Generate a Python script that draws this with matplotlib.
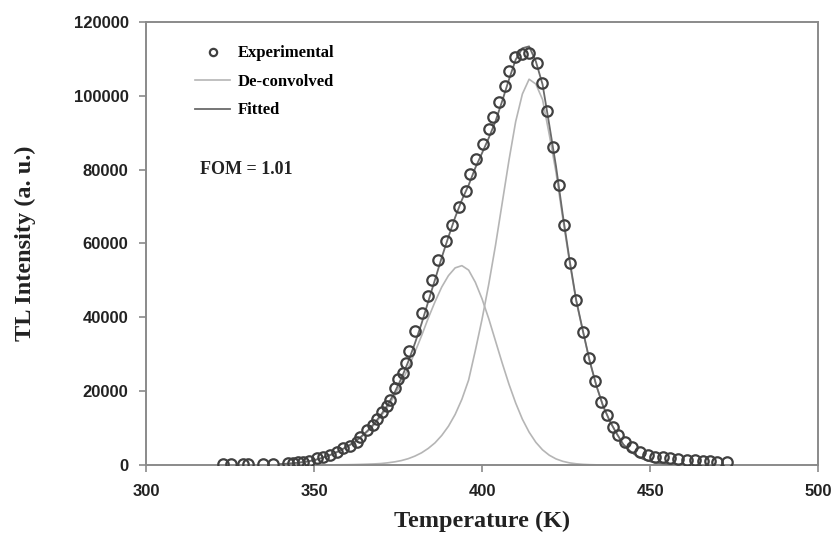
import numpy as np
import matplotlib.pyplot as plt

# experimental TL glow curve
temp_exp = [322.9, 325.3, 328.9, 330.4, 334.8, 337.8, 342.3, 343.8, 345.2, 346.7,
            348.5, 350.9, 352.7, 354.8, 356.8, 358.6, 360.7, 362.8, 363.7, 365.8,
            367.6, 368.8, 370.2, 371.7, 372.6, 374.1, 375.0, 376.5, 377.4, 378.3,
            380.1, 382.1, 383.9, 385.2, 386.9, 389.3, 391.1, 393.2, 395.2, 396.4,
            398.2, 400.3, 402.1, 403.3, 405.1, 406.8, 408.0, 409.8, 411.9, 414.0,
            416.4, 417.9, 419.3, 421.1, 422.9, 424.4, 426.2, 428.0, 430.1, 431.8,
            433.6, 435.4, 437.2, 439.0, 440.5, 442.6, 444.6, 447.0, 449.4, 451.5,
            453.9, 455.9, 458.3, 461.0, 463.4, 465.8, 467.9, 470.0, 473.0]
int_exp = [200, 200, 250, 250, 300, 350, 540, 540, 810, 810,
           1080, 1900, 2170, 2710, 3520, 4600, 5150, 6230, 7590, 9480,
           10840, 12460, 14360, 15980, 17610, 20860, 23300, 24920, 27630, 31000,
           36300, 41180, 45780, 50000, 55530, 60680, 65020, 69890, 74230, 78830,
           82900, 86960, 91020, 94270, 98340, 102670, 106740, 110530, 111340, 111610,
           108900, 103480, 95900, 86150, 75850, 65020, 54720, 44700, 36030, 28990,
           22750, 17070, 13540, 10290, 8130, 6230, 4880, 3520, 2710, 2170,
           2170, 1900, 1630, 1350, 1350, 1080, 1080, 810, 810]

# de-convolved peaks, sampled every 2 K
temp_fit = list(range(340, 462, 2))
peak_1 = [250, 350, 500, 700, 950, 1300, 1800, 2400, 3100, 4000,
          5000, 6100, 7500, 9100, 11000, 13300, 15800, 18800, 22300, 26200,
          30500, 35000, 39800, 44200, 48200, 51300, 53400, 54000, 52800, 49500,
          45000, 39600, 33600, 27600, 21900, 16800, 12400, 8900, 6150, 4100,
          2650, 1650, 1000, 580, 330, 180, 90, 40, 20, 0,
          0, 0, 0, 0, 0, 0, 0, 0, 0, 0, 0]
peak_2 = [0, 0, 0, 0, 0, 0, 0, 20, 40, 60,
          80, 120, 170, 230, 300, 400, 600, 850, 1200, 1700,
          2400, 3300, 4500, 6000, 8000, 10500, 13700, 17800, 23000, 31000,
          39500, 49000, 59500, 71000, 82500, 93000, 100500, 104500, 103200, 99000,
          89500, 79300, 66900, 55200, 44400, 36200, 28200, 21500, 16000, 11900,
          8600, 5600, 3800, 2500, 1600, 1000, 600, 350, 200, 100, 50]
fitted = np.array(peak_1) + np.array(peak_2)

fig = plt.figure(figsize=(8.34, 5.38), dpi=100)
ax = fig.add_axes([0.175, 0.1357, 0.806, 0.8234])

ax.plot(temp_fit, peak_1, color='#b5b5b5', lw=1.2, label='De-convolved', zorder=2)
ax.plot(temp_fit, peak_2, color='#b5b5b5', lw=1.2, zorder=2)
ax.plot(temp_fit, fitted, color='#6a6a6a', lw=1.3, label='Fitted', zorder=3)
ax.plot(temp_exp, int_exp, 'o', mfc='none', mec='#404040', mew=1.6, ms=7.5,
        label='Experimental', zorder=4)

ax.set_xlim(300, 500)
ax.set_ylim(0, 120000)
ax.set_xticks([300, 350, 400, 450, 500])
ax.set_yticks(range(0, 120001, 20000))
for s in ax.spines.values():
    s.set_color('#8a8a8a')
    s.set_linewidth(1.4)
ax.tick_params(direction='out', length=5, width=1.2, color='#8a8a8a')
ax.tick_params(axis='x', pad=9)
ax.tick_params(axis='y', pad=7.5)
for lab in ax.get_xticklabels() + ax.get_yticklabels():
    lab.set_fontfamily('Liberation Sans')
    lab.set_fontweight('bold')
    lab.set_fontsize(12)
    lab.set_color('#222222')

ax.set_xlabel('Temperature (K)', family='Liberation Serif', weight='bold',
              fontsize=17.5, color='#222222', labelpad=8)
ax.set_ylabel('TL Intensity (a. u.)', family='Liberation Serif', weight='bold',
              fontsize=17.5, color='#222222', labelpad=27)

h, l = ax.get_legend_handles_labels()
order = [2, 0, 1]
ax.legend([h[i] for i in order], [l[i] for i in order], loc='upper left',
          bbox_to_anchor=(0.073, 0.947), frameon=False, borderpad=0,
          borderaxespad=0, handlelength=2.1, handletextpad=0.45,
          labelspacing=0.75, markerscale=0.7,
          prop={'family': 'Liberation Serif', 'weight': 'bold', 'size': 12})

ax.text(0.081, 0.667, 'FOM = 1.01', transform=ax.transAxes,
        family='Liberation Serif', weight='bold', fontsize=13,
        color='#222222', va='center')

fig.savefig('out.png', dpi=100)
